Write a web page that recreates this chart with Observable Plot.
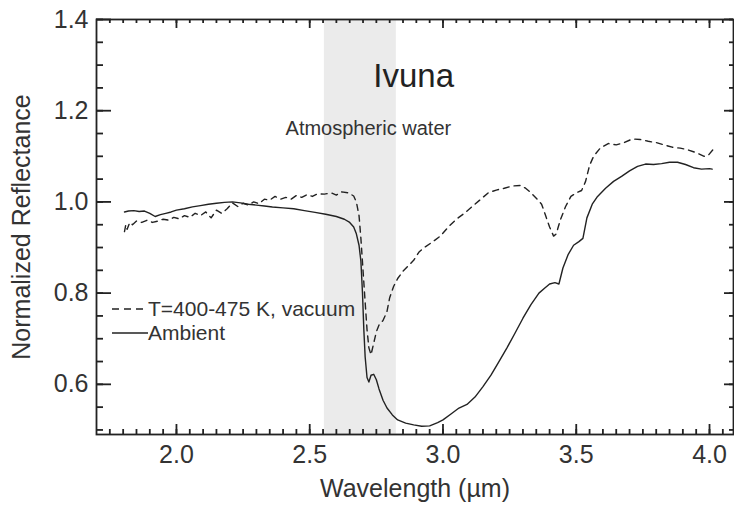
<!DOCTYPE html>
<html>
<head>
<meta charset="utf-8">
<script src="https://cdn.jsdelivr.net/npm/d3@7"></script>
<script src="https://cdn.jsdelivr.net/npm/@observablehq/plot@0.6"></script>
<style>
  body { margin: 0; background: #fff; font-family: "Liberation Sans", Arial, sans-serif; }
  #chart { position: relative; width: 734px; height: 505px; }
  .legend { position: absolute; left: 112px; top: 297px; font-size: 21px; color: #333; }
  .legend .row { display: flex; align-items: center; height: 24px; }
  .legend svg { display: block; }
</style>
</head>
<body>
<div id="chart"></div>
<script>
// Ivuna spectra: wavelength (µm) and normalized reflectance
const ambientWl = [1.805,1.82,1.84,1.86,1.88,1.90,1.92,1.94,1.96,1.98,2.00,2.03,2.06,2.09,2.12,2.15,2.18,2.21,2.24,2.27,2.30,2.33,2.36,2.40,2.44,2.48,2.52,2.56,2.60,2.63,2.65,2.665,2.675,2.685,2.692,2.698,2.703,2.708,2.715,2.722,2.73,2.74,2.75,2.76,2.775,2.79,2.81,2.83,2.86,2.89,2.92,2.95,2.98,3.00,3.03,3.06,3.09,3.12,3.15,3.18,3.21,3.24,3.27,3.30,3.33,3.36,3.38,3.40,3.42,3.435,3.45,3.47,3.49,3.51,3.525,3.54,3.56,3.58,3.61,3.64,3.67,3.70,3.73,3.76,3.79,3.82,3.85,3.88,3.91,3.94,3.97,4.00,4.01];
const ambientRefl = [0.978,0.980,0.981,0.979,0.980,0.975,0.968,0.972,0.975,0.978,0.982,0.985,0.989,0.992,0.995,0.997,0.999,1.000,0.998,0.995,0.993,0.991,0.989,0.987,0.985,0.981,0.977,0.973,0.968,0.962,0.955,0.945,0.930,0.905,0.870,0.800,0.720,0.660,0.615,0.605,0.620,0.622,0.610,0.590,0.565,0.548,0.533,0.522,0.515,0.511,0.508,0.509,0.516,0.522,0.535,0.548,0.556,0.572,0.595,0.620,0.650,0.680,0.712,0.745,0.775,0.800,0.810,0.820,0.823,0.820,0.855,0.885,0.905,0.913,0.920,0.965,0.995,1.012,1.030,1.045,1.056,1.068,1.078,1.083,1.082,1.084,1.087,1.087,1.082,1.075,1.072,1.073,1.072];

const vacuumWl = [1.805,1.81,1.815,1.825,1.835,1.85,1.87,1.89,1.91,1.93,1.95,1.97,1.99,2.01,2.03,2.05,2.07,2.09,2.11,2.13,2.15,2.17,2.19,2.21,2.23,2.25,2.27,2.29,2.31,2.33,2.35,2.37,2.39,2.41,2.43,2.45,2.47,2.49,2.51,2.53,2.555,2.58,2.60,2.62,2.645,2.665,2.675,2.685,2.692,2.70,2.708,2.715,2.722,2.73,2.74,2.75,2.76,2.775,2.79,2.80,2.815,2.83,2.85,2.87,2.89,2.91,2.93,2.96,2.99,3.02,3.05,3.08,3.11,3.14,3.17,3.20,3.23,3.26,3.29,3.31,3.33,3.35,3.37,3.385,3.40,3.415,3.425,3.44,3.46,3.48,3.50,3.52,3.535,3.55,3.565,3.59,3.62,3.65,3.68,3.71,3.74,3.77,3.80,3.83,3.86,3.89,3.92,3.95,3.98,3.995,4.015];
const vacuumRefl = [0.935,0.950,0.940,0.955,0.950,0.958,0.955,0.960,0.955,0.958,0.962,0.960,0.966,0.963,0.970,0.966,0.975,0.970,0.978,0.965,0.982,0.975,0.985,0.998,0.990,0.997,0.993,1.000,0.996,1.006,1.004,1.012,1.006,1.010,1.006,1.014,1.010,1.016,1.012,1.018,1.017,1.020,1.015,1.022,1.020,1.013,1.000,0.970,0.920,0.850,0.780,0.720,0.680,0.665,0.690,0.715,0.730,0.740,0.760,0.790,0.815,0.832,0.848,0.860,0.872,0.890,0.900,0.912,0.925,0.945,0.962,0.975,0.990,1.005,1.020,1.026,1.030,1.035,1.036,1.030,1.020,1.008,0.995,0.970,0.945,0.925,0.930,0.960,0.990,1.012,1.020,1.025,1.045,1.080,1.100,1.118,1.128,1.125,1.130,1.138,1.137,1.133,1.130,1.125,1.120,1.118,1.114,1.108,1.100,1.102,1.116];

// Atmospheric water absorption window (µm)
const waterBand = [{start: 2.555, end: 2.825}];

const seriesNames = ["T=400-475 K, vacuum", "Ambient"];
const xMajor = [2.0, 2.5, 3.0, 3.5, 4.0];
const yMajor = [0.6, 0.8, 1.0, 1.2, 1.4];
const xMinor = d3.range(35, 82).map(i => i / 20);
const yMinor = d3.range(10, 29).map(i => i / 20);

const ambient = ambientWl.map((w, i) => ({w, r: ambientRefl[i]}));
const vacuum = vacuumWl.map((w, i) => ({w, r: vacuumRefl[i]}));

const ink = "#222";
const fmt = d3.format(".1f");

const W = 734, H = 505;
const margin = {left: 96, right: 1, top: 19, bottom: 71};
const innerW = W - margin.left - margin.right;
const innerH = H - margin.top - margin.bottom;

// short tick marks along the inside of each frame edge
function edgeTicksX(ticks, side, len) {
  return Plot.tickX(ticks, {x: d => d, stroke: ink, strokeWidth: 1.8,
    ...(side === "bottom" ? {insetTop: innerH - len} : {insetBottom: innerH - len})});
}
function edgeTicksY(ticks, side, len) {
  return Plot.tickY(ticks, {y: d => d, stroke: ink, strokeWidth: 1.8,
    ...(side === "left" ? {insetRight: innerW - len} : {insetLeft: innerW - len})});
}

const plot = Plot.plot({
  width: W,
  height: H,
  marginLeft: margin.left,
  marginRight: margin.right,
  marginTop: margin.top,
  marginBottom: margin.bottom,
  x: {domain: [1.7, 4.09]},
  y: {domain: [0.49, 1.4]},
  style: {fontFamily: "'Liberation Sans', Arial, sans-serif", fontSize: "25px", color: "#333", background: "white"},
  marks: [
    Plot.rect(waterBand, {x1: "start", x2: "end", fill: "#ebebeb"}),
    Plot.line(vacuum, {x: "w", y: "r", stroke: ink, strokeWidth: 1.4, strokeDasharray: "6,5"}),
    Plot.line(ambient, {x: "w", y: "r", stroke: ink, strokeWidth: 1.4}),
    Plot.text(["Ivuna"], {x: 2.89, y: 1.275, text: d => d, fontSize: 33, fill: "#222"}),
    Plot.text(["Atmospheric water"], {x: 2.72, y: 1.16, text: d => d, fontSize: 20, fill: "#333"}),
    // tick labels and titles
    Plot.axisX({anchor: "bottom", ticks: xMajor, tickSize: 0, tickPadding: 11, tickFormat: fmt, label: "Wavelength (µm)", labelAnchor: "center", labelOffset: 62, labelArrow: "none"}),
    Plot.axisY({anchor: "left", ticks: yMajor, tickSize: 0, tickPadding: 8, tickFormat: fmt, label: "Normalized Reflectance", labelAnchor: "center", labelOffset: 84, labelArrow: "none"}),
    edgeTicksX(xMajor, "bottom", 10),
    edgeTicksX(xMinor, "bottom", 5),
    edgeTicksX(xMajor, "top", 9),
    edgeTicksX(xMinor, "top", 4),
    edgeTicksY(yMajor, "left", 15),
    edgeTicksY(yMinor, "left", 7),
    edgeTicksY(yMajor, "right", 9),
    edgeTicksY(yMinor, "right", 4),
    Plot.frame({stroke: ink, strokeWidth: 1.8})
  ]
});

const chart = document.getElementById("chart");
chart.appendChild(plot);

// legend drawn over the plot area
const legend = document.createElement("div");
legend.className = "legend";
const dashes = ["7,5", null];
seriesNames.forEach((name, i) => {
  const row = document.createElement("div");
  row.className = "row";
  row.innerHTML = `<svg width="36" height="4"><line x1="0" y1="2" x2="36" y2="2" stroke="${ink}" stroke-width="1.5"${dashes[i] ? ` stroke-dasharray="${dashes[i]}"` : ""}/></svg><span>${name}</span>`;
  legend.appendChild(row);
});
chart.appendChild(legend);
</script>
</body>
</html>
